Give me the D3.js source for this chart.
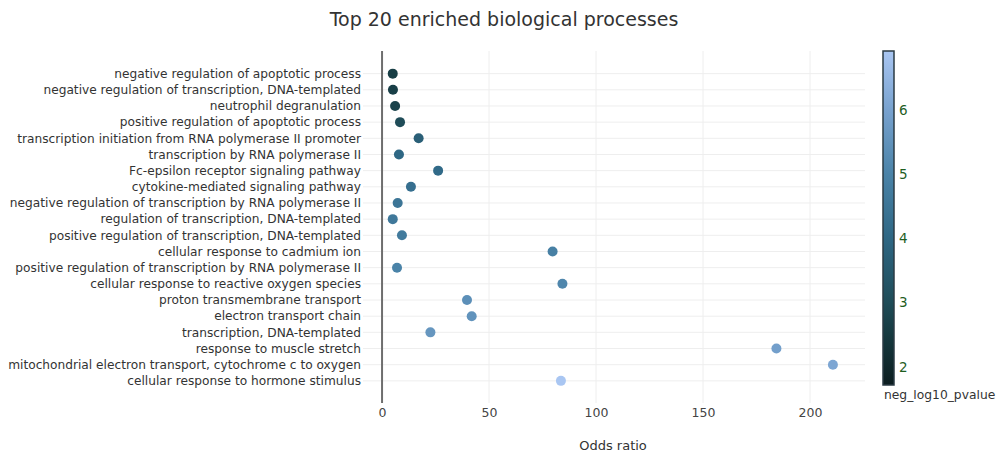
<!DOCTYPE html>
<html>
<head>
<meta charset="utf-8">
<script src="https://cdn.jsdelivr.net/npm/d3@7"></script>
<style>
  body { margin: 0; background: #fff; }
  svg { font-family: "DejaVu Sans", Verdana, sans-serif; }
</style>
</head>
<body>
<svg id="chart" width="1003" height="452"></svg>
<script>
// top 20 GO terms, top row first
var terms = [
  "negative regulation of apoptotic process",
  "negative regulation of transcription, DNA-templated",
  "neutrophil degranulation",
  "positive regulation of apoptotic process",
  "transcription initiation from RNA polymerase II promoter",
  "transcription by RNA polymerase II",
  "Fc-epsilon receptor signaling pathway",
  "cytokine-mediated signaling pathway",
  "negative regulation of transcription by RNA polymerase II",
  "regulation of transcription, DNA-templated",
  "positive regulation of transcription, DNA-templated",
  "cellular response to cadmium ion",
  "positive regulation of transcription by RNA polymerase II",
  "cellular response to reactive oxygen species",
  "proton transmembrane transport",
  "electron transport chain",
  "transcription, DNA-templated",
  "response to muscle stretch",
  "mitochondrial electron transport, cytochrome c to oxygen",
  "cellular response to hormone stimulus"
];
var oddsRatio = [5.0, 5.1, 6.1, 8.4, 17.1, 7.9, 26.2, 13.5, 7.3, 5.0,
                 9.3, 79.7, 7.0, 84.3, 39.7, 41.9, 22.6, 184.3, 210.7, 83.6];
var negLog10P = [2.6, 2.65, 2.75, 3.0, 3.7, 4.0, 4.1, 4.3, 4.5, 4.6,
                 4.7, 4.9, 5.0, 5.1, 5.4, 5.5, 5.6, 5.9, 6.1, 6.92];
var xTicks = [0, 50, 100, 150, 200];
var cbTicks = [2, 3, 4, 5, 6];

var svg = d3.select("#chart");

// plot area (pixels)
var pLeft = 363, pRight = 865, pTop = 51, pBottom = 403;

var x = d3.scaleLinear().domain([-8.9, 225.7]).range([pLeft, pRight]);
var y = d3.scaleLinear().domain([-1.4, terms.length - 1 + 1.37]).range([pTop, pBottom]);

var cmin = 1.715, cmax = 6.92;
var color = d3.scaleLinear()
    .domain([cmin, 2.5, 3, 4, 5, 6, cmax])
    .range(["#0c1d20", "#163a40", "#1f4c58", "#2e6784", "#4a83a8", "#78a2cf", "#a9c6f2"]);

// title
svg.append("text")
    .attr("x", 504).attr("y", 26)
    .attr("text-anchor", "middle")
    .attr("font-size", 19)
    .attr("fill", "#333")
    .text("Top 20 enriched biological processes");

// grid
var grid = svg.append("g");
grid.selectAll(".hg")
  .data(terms)
  .enter().append("line")
    .attr("x1", pLeft).attr("x2", pRight)
    .attr("y1", function(d, i) { return y(i); })
    .attr("y2", function(d, i) { return y(i); })
    .attr("stroke", "#eeeeee").attr("stroke-width", 1);
grid.selectAll(".vg")
  .data(xTicks.filter(function(d) { return d !== 0; }))
  .enter().append("line")
    .attr("x1", function(d) { return x(d); })
    .attr("x2", function(d) { return x(d); })
    .attr("y1", pTop).attr("y2", pBottom)
    .attr("stroke", "#eeeeee").attr("stroke-width", 1);

// zero line
svg.append("line")
    .attr("x1", x(0)).attr("x2", x(0))
    .attr("y1", pTop).attr("y2", pBottom)
    .attr("stroke", "#6e6e6e").attr("stroke-width", 2);

// x axis
var xAxis = svg.append("g")
    .attr("transform", "translate(0," + pBottom + ")")
    .call(d3.axisBottom(x).tickValues(xTicks).tickSize(0).tickPadding(5));
xAxis.select(".domain").remove();
xAxis.selectAll("text").attr("font-size", 12.5).attr("fill", "#444")
    .attr("font-family", "DejaVu Sans, Verdana, sans-serif");

svg.append("text")
    .attr("x", 613).attr("y", 450)
    .attr("text-anchor", "middle")
    .attr("font-size", 13)
    .attr("fill", "#333")
    .text("Odds ratio");

// y labels
svg.append("g").selectAll("text")
  .data(terms)
  .enter().append("text")
    .attr("x", 361)
    .attr("y", function(d, i) { return y(i); })
    .attr("dy", "0.35em")
    .attr("text-anchor", "end")
    .attr("font-size", 12.2)
    .attr("fill", "#333")
    .text(function(d) { return d; });

// points
svg.append("g").selectAll("circle")
  .data(terms)
  .enter().append("circle")
    .attr("cx", function(d, i) { return x(oddsRatio[i]); })
    .attr("cy", function(d, i) { return y(i); })
    .attr("r", 5)
    .attr("fill", function(d, i) { return color(negLog10P[i]); });

// colorbar
var cbX = 883, cbW = 11, cbTop = 51, cbBottom = 385;
var cy = d3.scaleLinear().domain([cmin, cmax]).range([cbBottom, cbTop]);

var grad = svg.append("defs").append("linearGradient")
    .attr("id", "cbgrad")
    .attr("x1", 0).attr("y1", 1).attr("x2", 0).attr("y2", 0);
grad.selectAll("stop")
  .data(color.domain())
  .enter().append("stop")
    .attr("offset", function(d) { return (d - cmin) / (cmax - cmin); })
    .attr("stop-color", function(d) { return color(d); });

svg.append("rect")
    .attr("x", cbX).attr("y", cbTop)
    .attr("width", cbW).attr("height", cbBottom - cbTop)
    .attr("fill", "url(#cbgrad)")
    .attr("stroke", "#2b3b44").attr("stroke-width", 1.5);

var cbAxis = svg.append("g")
    .attr("transform", "translate(" + (cbX + cbW) + ",0)")
    .call(d3.axisRight(cy).tickValues(cbTicks).tickFormat(d3.format("d")).tickSize(0).tickPadding(5));
cbAxis.select(".domain").remove();
cbAxis.selectAll("text").attr("font-size", 13.5).attr("fill", "#1f5e1f")
    .attr("font-family", "DejaVu Sans, Verdana, sans-serif");

svg.append("text")
    .attr("x", 884).attr("y", 399)
    .attr("font-size", 12.3)
    .attr("fill", "#333")
    .text("neg_log10_pvalue");
</script>
</body>
</html>
